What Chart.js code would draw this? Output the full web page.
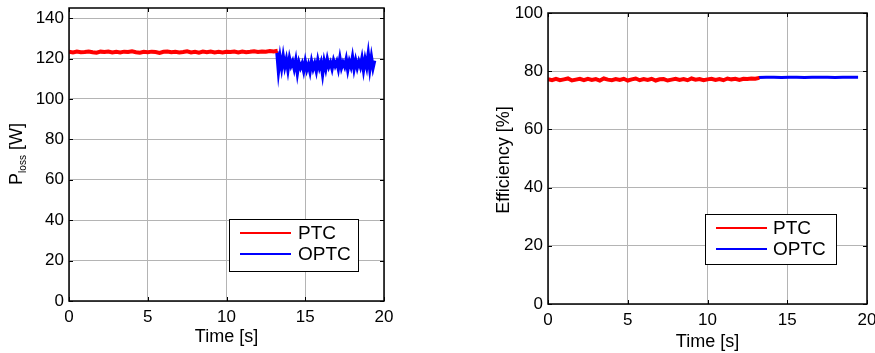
<!DOCTYPE html>
<html>
<head>
<meta charset="utf-8">
<script src="https://cdn.jsdelivr.net/npm/chart.js@4/dist/chart.umd.min.js"></script>
<style>
html, body { margin: 0; padding: 0; background: #fff; }
#wrap { position: relative; width: 875px; height: 353px; overflow: hidden; }
#wrap canvas { position: absolute; top: 0; }
</style>
</head>
<body>
<div id="wrap">
  <canvas id="lossChart" width="437" height="353" style="left:0"></canvas>
  <canvas id="effChart" width="438" height="353" style="left:437px"></canvas>
</div>
<script>
'use strict';
// ---- data ----
var timeTicks = [0, 5, 10, 15, 20];
var lossTicks = [0, 20, 40, 60, 80, 100, 120, 140];
var effTicks = [0, 20, 40, 60, 80, 100];
var seriesNames = ['PTC', 'OPTC'];

// sampling of the traces (s)
var ptcStart = 0, ptcStep = 0.25;
var optcStart = 13.2, optcStep = 0.1;
var optcEffStep = 0.48;

// left plot, P_loss [W]
var ptcLoss = [
    123.3, 123.0, 123.4, 123.1, 123.2, 123.5, 123.1, 122.9, 123.4, 123.2,
    123.5, 123.0, 123.3, 123.0, 123.4, 123.2, 123.6, 123.1, 122.9, 123.3,
    123.1, 123.4, 123.2, 122.8, 123.3, 123.5, 123.1, 123.3, 123.0, 123.2,
    123.6, 123.0, 123.3, 122.9, 123.4, 123.1, 123.5, 123.0, 123.3, 123.0,
    123.3, 123.2, 123.5, 123.0, 123.4, 123.1, 123.3, 123.6, 123.2, 123.5,
    123.4, 123.7, 123.5, 123.8
];
var optcLoss = [
    123.5, 114.0, 120.5, 115.5, 121.0, 116.0, 119.5, 114.5, 120.0, 116.5,
    118.5, 115.0, 119.0, 113.0, 118.0, 115.5, 117.5, 114.0, 118.5, 114.5,
    117.0, 113.5, 118.5, 115.0, 117.5, 114.0, 119.0, 115.5, 118.0, 112.5,
    118.5, 115.0, 119.5, 116.0, 118.0, 115.0, 119.0, 116.5, 118.5, 115.0,
    120.0, 115.5, 118.0, 116.0, 119.5, 114.5, 118.5, 116.0, 120.5, 115.0,
    119.0, 115.5, 118.5, 116.0, 120.0, 114.5, 119.5, 116.0, 122.0, 115.0,
    120.5, 115.5, 119.0
];

// right plot, Efficiency [%]
var ptcEff = [
    77.3, 76.9, 77.4, 76.9, 77.2, 77.5, 76.8, 77.1, 77.4, 76.9,
    77.4, 77.0, 77.3, 76.8, 77.5, 77.1, 76.9, 77.3, 77.0, 77.4,
    76.8, 77.2, 77.5, 76.9, 77.3, 77.0, 77.4, 76.8, 77.2, 77.3,
    76.8, 77.1, 77.4, 77.0, 77.3, 76.9, 77.5, 77.1, 77.3, 76.9,
    77.2, 77.4, 77.0, 77.3, 76.9, 77.5, 77.2, 77.4, 77.0, 77.4,
    77.3, 77.5, 77.4, 77.7
];
var optcEff = [77.8, 77.9, 77.9, 77.8, 77.9, 77.9, 77.8, 77.9, 77.9, 77.9, 77.8, 77.9, 77.9, 77.9];

var FONT = "'Liberation Sans', Arial, sans-serif";

function toPoints(values, start, step) {
    var pts = [];
    for (var i = 0; i < values.length; i++) {
        pts.push({ x: start + i * step, y: values[i] });
    }
    return pts;
}

// MATLAB-ish axes: box, inward ticks, legend, axis titles
var matlabAxesPlugin = {
    id: 'matlabAxes',
    afterDraw: function (chart, args, opts) {
        var ctx = chart.ctx;
        var a = chart.chartArea;
        var xs = chart.scales.x, ys = chart.scales.y;
        ctx.save();

        // tick marks pointing inward on all four sides
        ctx.strokeStyle = '#000';
        ctx.lineWidth = 1;
        ctx.beginPath();
        xs.ticks.forEach(function (t) {
            var px = Math.round(xs.getPixelForValue(t.value)) + 0.5;
            ctx.moveTo(px, a.bottom); ctx.lineTo(px, a.bottom - 4);
            ctx.moveTo(px, a.top); ctx.lineTo(px, a.top + 4);
        });
        ys.ticks.forEach(function (t) {
            var py = Math.round(ys.getPixelForValue(t.value)) + 0.5;
            ctx.moveTo(a.left, py); ctx.lineTo(a.left + 4, py);
            ctx.moveTo(a.right, py); ctx.lineTo(a.right - 4, py);
        });
        ctx.stroke();

        ctx.lineWidth = 1.5;
        ctx.strokeRect(a.left, a.top, a.right - a.left, a.bottom - a.top);

        // legend box
        var lg = opts.legend;
        var bx = a.right - lg.right - lg.w;
        var by = a.bottom - lg.bottom - lg.h;
        ctx.fillStyle = '#fff';
        ctx.fillRect(bx, by, lg.w, lg.h);
        ctx.lineWidth = 1;
        ctx.strokeStyle = '#000';
        ctx.strokeRect(bx + 0.5, by + 0.5, lg.w, lg.h);
        ctx.font = '19px ' + FONT;
        ctx.textBaseline = 'middle';
        ctx.textAlign = 'left';
        chart.data.datasets.forEach(function (ds, i) {
            var ry = by + lg.row0 + i * lg.rowGap;
            ctx.strokeStyle = ds.borderColor;
            ctx.lineWidth = 2;
            ctx.beginPath();
            ctx.moveTo(bx + 11, ry);
            ctx.lineTo(bx + 62, ry);
            ctx.stroke();
            ctx.fillStyle = '#000';
            ctx.fillText(ds.label, bx + lg.textX, ry + 1);
        });

        // x title
        ctx.fillStyle = '#000';
        ctx.font = '18px ' + FONT;
        ctx.textAlign = 'center';
        ctx.textBaseline = 'middle';
        ctx.fillText(opts.xTitle, (a.left + a.right) / 2, opts.xTitleY);

        // y title (rotated, may carry a subscript)
        var yt = opts.yTitle;
        ctx.translate(yt.x, yt.y);
        ctx.rotate(-Math.PI / 2);
        ctx.textAlign = 'left';
        ctx.textBaseline = 'alphabetic';
        var total = 0;
        yt.parts.forEach(function (p) {
            ctx.font = p.size + 'px ' + FONT;
            total += ctx.measureText(p.text).width;
        });
        var cx = -total / 2;
        yt.parts.forEach(function (p) {
            ctx.font = p.size + 'px ' + FONT;
            ctx.fillText(p.text, cx, p.sub ? 10 : 6);
            cx += ctx.measureText(p.text).width;
        });
        ctx.restore();
    }
};

function noEdgePadding(scale) {
    scale.paddingTop = 0;
    scale.paddingBottom = 0;
    scale.paddingLeft = 0;
    scale.paddingRight = 0;
}

function makeChart(id, cfg) {
    var ctx = document.getElementById(id);
    return new Chart(ctx, {
        type: 'line',
        data: {
            datasets: [{
                label: seriesNames[0],
                data: cfg.ptc,
                borderColor: '#ff0000',
                borderWidth: cfg.ptcWidth,
                pointRadius: 0,
                tension: 0
            }, {
                label: seriesNames[1],
                data: cfg.optc,
                borderColor: '#0000ff',
                borderWidth: cfg.optcWidth,
                pointRadius: 0,
                tension: 0
            }]
        },
        options: {
            responsive: false,
            animation: false,
            layout: { padding: cfg.padding },
            plugins: {
                legend: { display: false },
                tooltip: { enabled: false },
                matlabAxes: {
                    legend: cfg.legend,
                    xTitle: 'Time [s]',
                    xTitleY: cfg.xTitleY,
                    yTitle: cfg.yTitle
                }
            },
            scales: {
                x: {
                    type: 'linear',
                    min: 0,
                    max: 20,
                    afterBuildTicks: function (scale) {
                        scale.ticks = timeTicks.map(function (v) { return { value: v }; });
                    },
                    afterFit: function (scale) {
                        scale.height = cfg.xHeight;
                        noEdgePadding(scale);
                    },
                    ticks: { color: '#000', padding: 8, maxRotation: 0, font: { family: FONT, size: 17, lineHeight: 1 } },
                    grid: { color: '#b4b4b4', lineWidth: 1, drawTicks: false },
                    border: { display: false }
                },
                y: {
                    type: 'linear',
                    min: 0,
                    max: cfg.yMax,
                    afterBuildTicks: function (scale) {
                        scale.ticks = cfg.yTicks.map(function (v) { return { value: v }; });
                    },
                    afterFit: function (scale) {
                        scale.width = cfg.yWidth;
                        noEdgePadding(scale);
                    },
                    ticks: { color: '#000', padding: 5, font: { family: FONT, size: 17, lineHeight: 1 } },
                    grid: { color: '#b4b4b4', lineWidth: 1, drawTicks: false },
                    border: { display: false }
                }
            }
        },
        plugins: [matlabAxesPlugin]
    });
}

var lossChart = makeChart('lossChart', {
    ptc: toPoints(ptcLoss, ptcStart, ptcStep),
    optc: toPoints(optcLoss, optcStart, optcStep),
    ptcWidth: 4,
    optcWidth: 3.5,
    yMax: 145,
    yTicks: lossTicks,
    yWidth: 69,
    xHeight: 52,
    padding: { left: 0, right: 53, top: 8, bottom: 0 },
    xTitleY: 337,
    legend: { right: 26, bottom: 30, w: 129, h: 52, row0: 14, rowGap: 21, textX: 69 },
    yTitle: { x: 16, y: 154, parts: [
        { text: 'P', size: 18 },
        { text: 'loss', size: 10, sub: true },
        { text: ' [W]', size: 18 }
    ] }
});

var effChart = makeChart('effChart', {
    ptc: toPoints(ptcEff, ptcStart, ptcStep),
    optc: toPoints(optcEff, optcStart, optcEffStep),
    ptcWidth: 4,
    optcWidth: 3,
    yMax: 100,
    yTicks: effTicks,
    yWidth: 111,
    xHeight: 49,
    padding: { left: 0, right: 8, top: 13, bottom: 0 },
    xTitleY: 342,
    legend: { right: 31, bottom: 40, w: 131, h: 50, row0: 14, rowGap: 21, textX: 68 },
    yTitle: { x: 66, y: 160, parts: [
        { text: 'Efficiency [%]', size: 18 }
    ] }
});
</script>
</body>
</html>
